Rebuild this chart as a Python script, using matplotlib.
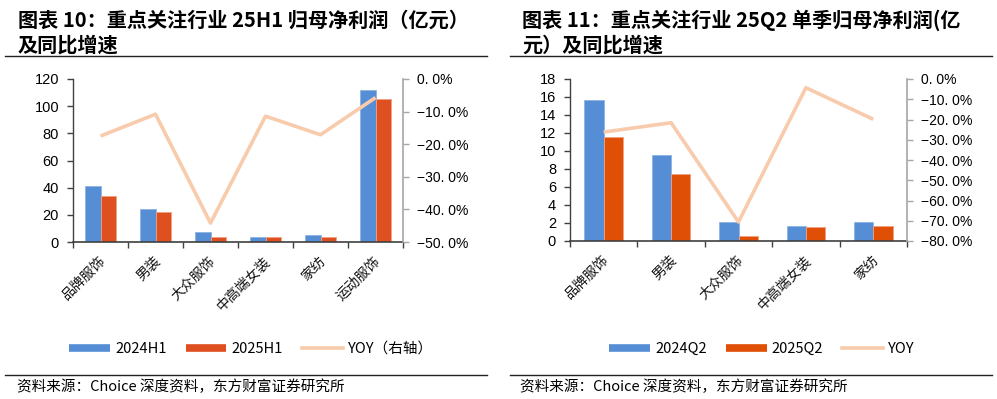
import matplotlib
matplotlib.use("Agg")
import matplotlib.pyplot as plt
import numpy as np
from matplotlib.lines import Line2D

plt.rcParams['font.family'] = ['Noto Sans CJK SC', 'DejaVu Sans']
plt.rcParams['axes.unicode_minus'] = False

# data - chart 10 (H1)
cats_h1 = ['品牌服饰', '男装', '大众服饰', '中高端女装', '家纺', '运动服饰']
profit_24h1 = [41.5, 24.5, 7.0, 4.0, 5.0, 112.0]
profit_25h1 = [34.0, 22.0, 4.0, 3.5, 4.0, 105.0]
yoy_h1 = [-17.5, -10.8, -44.2, -11.4, -17.1, -5.7]

# data - chart 11 (Q2)
cats_q2 = ['品牌服饰', '男装', '大众服饰', '中高端女装', '家纺']
profit_24q2 = [15.7, 9.6, 2.1, 1.7, 2.1]
profit_25q2 = [11.55, 7.5, 0.56, 1.6, 1.67]
yoy_q2 = [-26.2, -21.6, -70.6, -4.3, -19.9]

BLUE = '#558ED5'
ORANGE1 = '#DE5020'
ORANGE2 = '#DF4F05'
PEACH = '#F8CBAD'
W, H = 997, 399

fig = plt.figure(figsize=(W / 100, H / 100), dpi=100)


def px(x0, y0, x1, y1):
    return [x0 / W, 1 - y1 / H, (x1 - x0) / W, (y1 - y0) / H]


def pct(v):
    if v == 0:
        return '0. 0%'
    return '\u2212' + f'{abs(v):.1f}'.replace('.', '. ') + '%'


def draw(rect, cats, a, b, yoy, orange, ymax, ystep, rmin, rstep, labels, legx):
    ax = fig.add_axes(px(*rect))
    x = np.arange(len(cats))
    bw = 0.285
    ax.bar(x - bw / 2, a, bw, color=BLUE, edgecolor='#8DB4E2', linewidth=0.6)
    ax.bar(x + bw / 2, b, bw, color=orange, edgecolor='#F2A080', linewidth=0.6)
    ax.set_xlim(-0.5, len(cats) - 0.5)
    ax.set_ylim(0, ymax)
    yt = np.arange(0, ymax + 0.1, ystep)
    ax.set_yticks(yt)
    ax.set_yticklabels([f'{v:g}' for v in yt], family='Liberation Sans', fontsize=10.5)
    ax.set_xticks(np.arange(-0.5, len(cats), 1.0))
    ax.set_xticklabels([])
    ax.tick_params(axis='x', length=4, width=1, color='#404040', direction='out')
    ax.tick_params(axis='y', length=4, width=1, color='#404040', direction='out', pad=6)
    for s in ['top', 'right']:
        ax.spines[s].set_visible(False)
    ax.spines['left'].set_color('#404040')
    ax.spines['bottom'].set_color('#404040')
    ax.spines['left'].set_linewidth(1)
    ax.spines['bottom'].set_linewidth(1.2)
    for i, c in enumerate(cats):
        ax.annotate(c, (i, 0), xycoords=('data', 'axes fraction'),
                    xytext=(2, -12), textcoords='offset points',
                    rotation=45, rotation_mode='anchor', ha='right', va='center',
                    fontsize=10, color='#111111')

    ax2 = ax.twinx()
    ax2.plot(x, yoy, color=PEACH, linewidth=2.6, solid_capstyle='butt')
    ax2.set_ylim(rmin, 0)
    rt = np.arange(rmin, 0.1, rstep)
    ax2.set_yticks(rt)
    ax2.set_yticklabels([pct(v) for v in rt], family='Liberation Sans', fontsize=10)
    ax2.tick_params(axis='y', length=4, width=1, color='#A6A6A6', direction='out', pad=6)
    for s in ['top', 'left', 'bottom']:
        ax2.spines[s].set_visible(False)
    ax2.spines['right'].set_color('#A6A6A6')
    ax2.spines['right'].set_linewidth(1.2)

    handles = [Line2D([], [], color=BLUE, lw=5.5, solid_capstyle='butt'),
               Line2D([], [], color=orange, lw=5.5, solid_capstyle='butt'),
               Line2D([], [], color=PEACH, lw=2.6)]
    fig.legend(handles, labels, loc='center', bbox_to_anchor=(legx / W, 1 - 349 / H),
               ncol=3, frameon=False, handlelength=2.8, handletextpad=0.35,
               columnspacing=1.3, prop={'size': 10.5})
    return ax


draw((73, 79, 403, 242), cats_h1, profit_24h1, profit_25h1, yoy_h1, ORANGE1,
     120, 20, -50, 10, ['2024H1', '2025H1', 'YOY（右轴）'], 251)
draw((570, 79, 907, 241), cats_q2, profit_24q2, profit_25q2, yoy_q2, ORANGE2,
     18, 2, -80, 10, ['2024Q2', '2025Q2', 'YOY'], 762)

# titles
tkw = dict(fontsize=14.5, fontweight='bold', va='center')
fig.text(18 / W, 1 - 20 / H, '图表 10：重点关注行业 25H1 归母净利润（亿元）', **tkw)
fig.text(18 / W, 1 - 45 / H, '及同比增速', **tkw)
fig.text(522 / W, 1 - 20 / H, '图表 11：重点关注行业 25Q2 单季归母净利润(亿', **tkw)
fig.text(522 / W, 1 - 45 / H, '元）及同比增速', **tkw)

# rules and source
for x0, x1 in [(5, 487), (510, 992)]:
    fig.add_artist(Line2D([x0 / W, x1 / W], [1 - 56 / H] * 2, color='#222222', lw=1.0))
    fig.add_artist(Line2D([x0 / W, x1 / W], [1 - 375 / H] * 2, color='#222222', lw=1.0))
src = '资料来源：Choice 深度资料，东方财富证券研究所'
fig.text(17 / W, 1 - 387 / H, src, fontsize=10.5, va='center')
fig.text(520 / W, 1 - 387 / H, src, fontsize=10.5, va='center')

fig.savefig('out.png', dpi=100)
